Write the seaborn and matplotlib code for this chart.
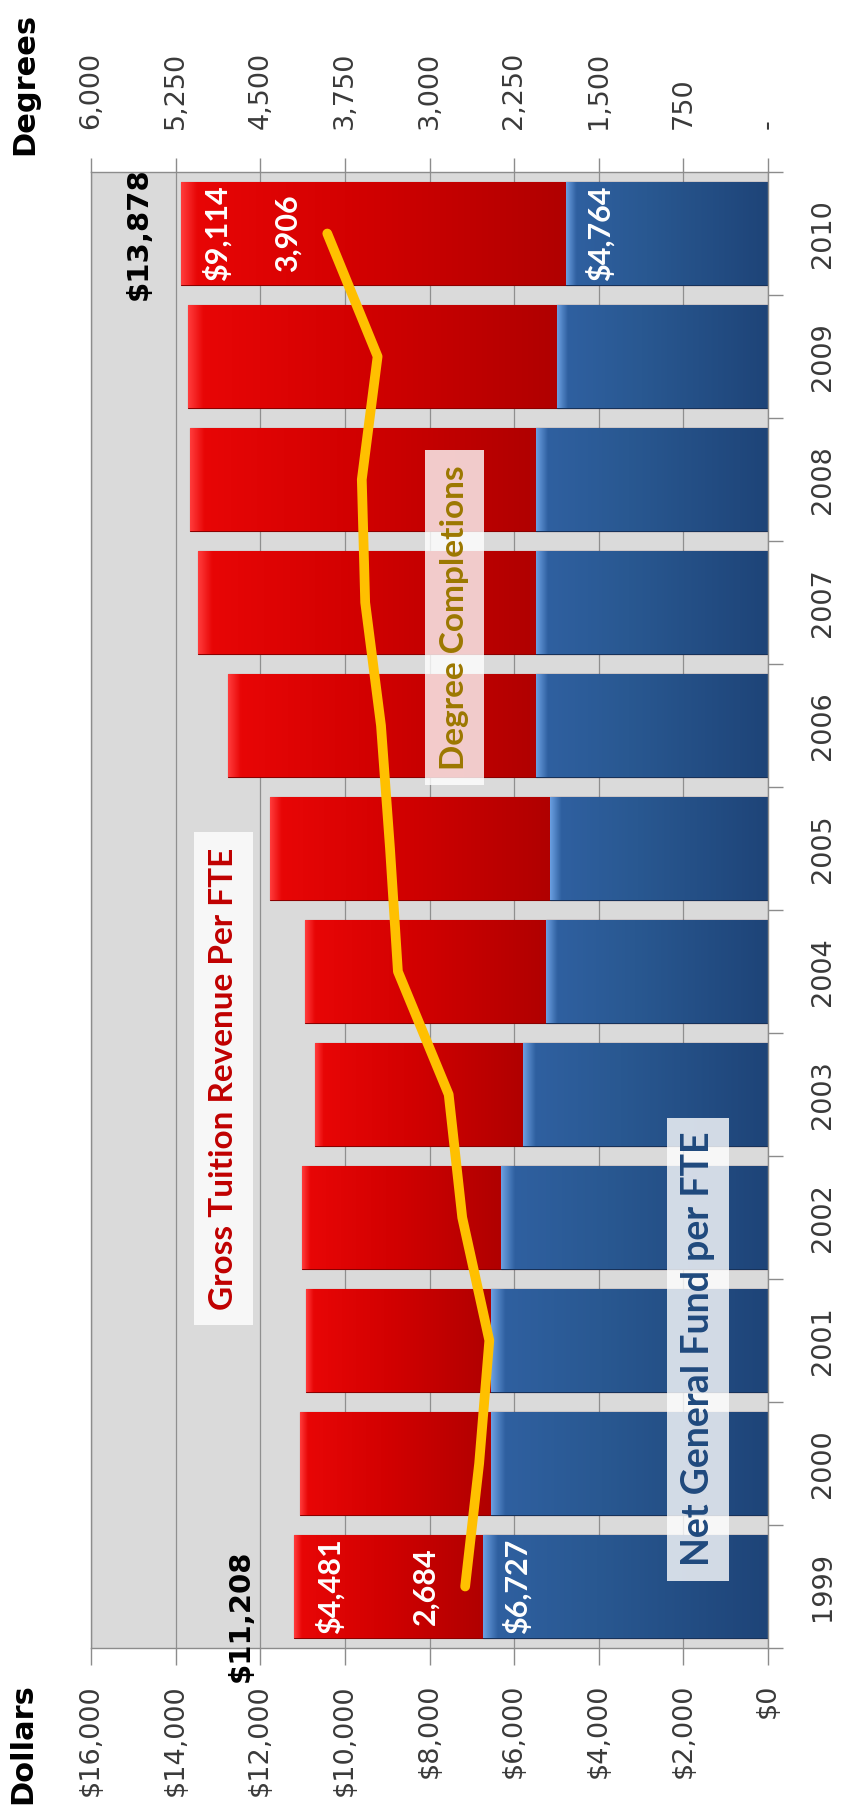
import numpy as np
import pandas as pd
import matplotlib
matplotlib.use("Agg")
import matplotlib.pyplot as plt
from matplotlib.colors import LinearSegmentedColormap
from matplotlib.ticker import FixedLocator, FuncFormatter
import seaborn as sns

# ---------------- data ----------------
years = ['1999', '2000', '2001', '2002', '2003', '2004',
         '2005', '2006', '2007', '2008', '2009', '2010']
net_general_fund = [6727, 6550, 6550, 6320, 5780, 5240, 5160, 5480, 5480, 5480, 4990, 4764]
gross_tuition = [4481, 4510, 4370, 4690, 4920, 5700, 6610, 7280, 7980, 8170, 8720, 9114]
degree_completions = [2684, 2560, 2470, 2710, 2830, 3280, 3350, 3430, 3570, 3600, 3460, 3906]
dollar_ticks = [0, 2000, 4000, 6000, 8000, 10000, 12000, 14000, 16000]
degree_ticks = [0, 750, 1500, 2250, 3000, 3750, 4500, 5250, 6000]

total = [a + b for a, b in zip(net_general_fund, gross_tuition)]
df = pd.DataFrame({'year': years, 'net': net_general_fund, 'tuition': gross_tuition,
                   'total': total, 'degrees': degree_completions})
df['pos'] = np.arange(len(years))

# ---------------- style ----------------
sns.set_theme(style='white')
plt.rcParams['font.family'] = ['DejaVu Sans']
RED = '#d40000'
BLUE = '#2a5a98'
TICK_COL = '#3a3a3a'
SPINE_COL = '#8c8c8c'

fig = plt.figure(figsize=(8.43, 18.16), dpi=100)
ax = fig.add_axes([91 / 843, 1 - 1648 / 1816, (768 - 91) / 843, (1648 - 172) / 1816])
ax.set_facecolor('#dadada')

# stacked horizontal bars: total (red) then net general fund (blue) on top
sns.barplot(data=df, x='total', y='year', order=years, orient='h', color=RED,
            width=0.84, saturation=1, ax=ax, edgecolor='#8a0000', linewidth=0.8)
sns.barplot(data=df, x='net', y='year', order=years, orient='h', color=BLUE,
            width=0.84, saturation=1, ax=ax, edgecolor='#17325a', linewidth=0.8)

# gradient shading clipped to each bar
red_cmap = LinearSegmentedColormap.from_list(
    'r', [(0, '#b00000'), (0.5, '#d00000'), (0.96, '#e80606'), (1, '#ff3a3a')])
blue_cmap = LinearSegmentedColormap.from_list(
    'b', [(0, '#1e4478'), (0.6, '#295891'), (0.95, '#2f60a0'), (1, '#6a9ee0')])
grad = np.linspace(0, 1, 256).reshape(1, -1)
n = len(years)
patches = list(ax.patches)
for k, p in enumerate(patches):
    i = k % n
    y0, h = p.get_y(), p.get_height()
    if k < n:
        left, right, cmap = net_general_fund[i], total[i], red_cmap
    else:
        left, right, cmap = 0, net_general_fund[i], blue_cmap
    im = ax.imshow(grad, extent=[left, right, y0, y0 + h], cmap=cmap, aspect='auto',
                   origin='lower', zorder=p.get_zorder() + 0.01, interpolation='bilinear')
    im.set_clip_path(p)

# axes: dollars (bottom), inverted so $0 is at the right
ax.set_xlim(16000, 0)
ax.set_ylim(-0.5, n - 0.5)
ax.xaxis.set_major_locator(FixedLocator(dollar_ticks))
ax.xaxis.set_major_formatter(FuncFormatter(lambda v, _: f"${int(v):,}"))
ax.set_axisbelow(True)
ax.grid(axis='x', color='#8f8f8f', linewidth=0.9)
ax.grid(axis='y', visible=False)
ax.set_xlabel('')
ax.set_ylabel('')
ax.tick_params(axis='x', which='major', bottom=True, direction='out', length=12,
               width=1, color=SPINE_COL, pad=14, labelsize=19.5, labelcolor=TICK_COL,
               labelrotation=90)

# years on the right
ax.yaxis.tick_right()
ax.set_yticks(df['pos'])
ax.set_yticklabels(years)
ax.set_yticks(np.arange(-0.5, n, 1), minor=True)
ax.tick_params(axis='y', which='major', right=True, left=False, length=0, pad=30,
               labelsize=19.5, labelcolor=TICK_COL)
ax.tick_params(axis='y', which='minor', right=True, left=False, direction='out',
               length=11, width=1, color=SPINE_COL)
for lab in ax.get_yticklabels():
    lab.set_rotation(90)
    lab.set_va('center')
    lab.set_ha('left')
for s in ax.spines.values():
    s.set_color(SPINE_COL)
    s.set_linewidth(1)

# degrees (top)
ax2 = ax.twiny()
sns.lineplot(data=df, x='degrees', y='pos', orient='y', sort=False, estimator=None,
             color='#ffc000', linewidth=7, ax=ax2, solid_capstyle='round',
             solid_joinstyle='round', zorder=5)
ax2.set_xlim(6000, 0)
ax.set_ylim(-0.5, n - 0.5)
ax2.xaxis.set_major_locator(FixedLocator(degree_ticks))
ax2.xaxis.set_major_formatter(FuncFormatter(lambda v, _: '-' if v == 0 else f"{int(v):,}"))
ax2.set_xlabel('')
ax2.set_ylabel('')
ax2.tick_params(axis='x', top=True, direction='out', length=10, width=1, color=SPINE_COL,
                pad=21, labelsize=19.5, labelcolor=TICK_COL, labelrotation=90)
for s in ax2.spines.values():
    s.set_visible(False)

# ---------------- labels ----------------
lato = ['Lato', 'DejaVu Sans']
first, last = 0, n - 1
# totals
ax.text(total[last] + 1000, df['pos'][last], f"${total[last]:,}", rotation=90,
        ha='center', va='center', fontsize=21, weight='bold', color='black', zorder=10)
ax.text(total[first] + 1250, df['pos'][first] - 0.24, f"${total[first]:,}", rotation=90,
        ha='center', va='center', fontsize=21, weight='bold', color='black', zorder=10)
# inside labels
for i in (first, last):
    ax.text(total[i] - 860, df['pos'][i], f"${gross_tuition[i]:,}", rotation=90,
            ha='center', va='center', fontsize=22, weight='bold', color='white',
            family=lato, zorder=10)
    ax.text(net_general_fund[i] - 790, df['pos'][i], f"${net_general_fund[i]:,}", rotation=90,
            ha='center', va='center', fontsize=22, weight='bold', color='white',
            family=lato, zorder=10)
    ax2.text(degree_completions[i] + 352, df['pos'][i], f"{degree_completions[i]:,}",
             rotation=90, ha='center', va='center', fontsize=22, weight='bold',
             color='white', family=lato, zorder=10)

box = dict(boxstyle='square,pad=0.45', fc='white', ec='none', alpha=0.8)
ax.text(12860, 4.13, 'Gross Tuition Revenue Per FTE', rotation=90, ha='center',
        va='center', fontsize=24, weight='bold', color='#c00000', family=lato,
        bbox=box, zorder=10)
ax.text(1650, 1.93, 'Net General Fund per FTE', rotation=90, ha='center',
        va='center', fontsize=27, weight='bold', color='#1f497d', family=lato,
        bbox=dict(boxstyle='square,pad=0.38', fc='white', ec='none', alpha=0.8), zorder=10)
ax.text(7400, 7.88, 'Degree Completions', rotation=90, ha='center',
        va='center', fontsize=24, weight='bold', color='#9c7800', family=lato,
        bbox=box, zorder=10)

fig.text(23 / 843, 1 - 1744 / 1816, 'Dollars', rotation=90, ha='center', va='center',
         fontsize=22, weight='bold', color='black')
fig.text(25 / 843, 1 - 84 / 1816, 'Degrees', rotation=90, ha='center', va='center',
         fontsize=22, weight='bold', color='black')

fig.savefig('out.png', dpi=100, facecolor='white')
